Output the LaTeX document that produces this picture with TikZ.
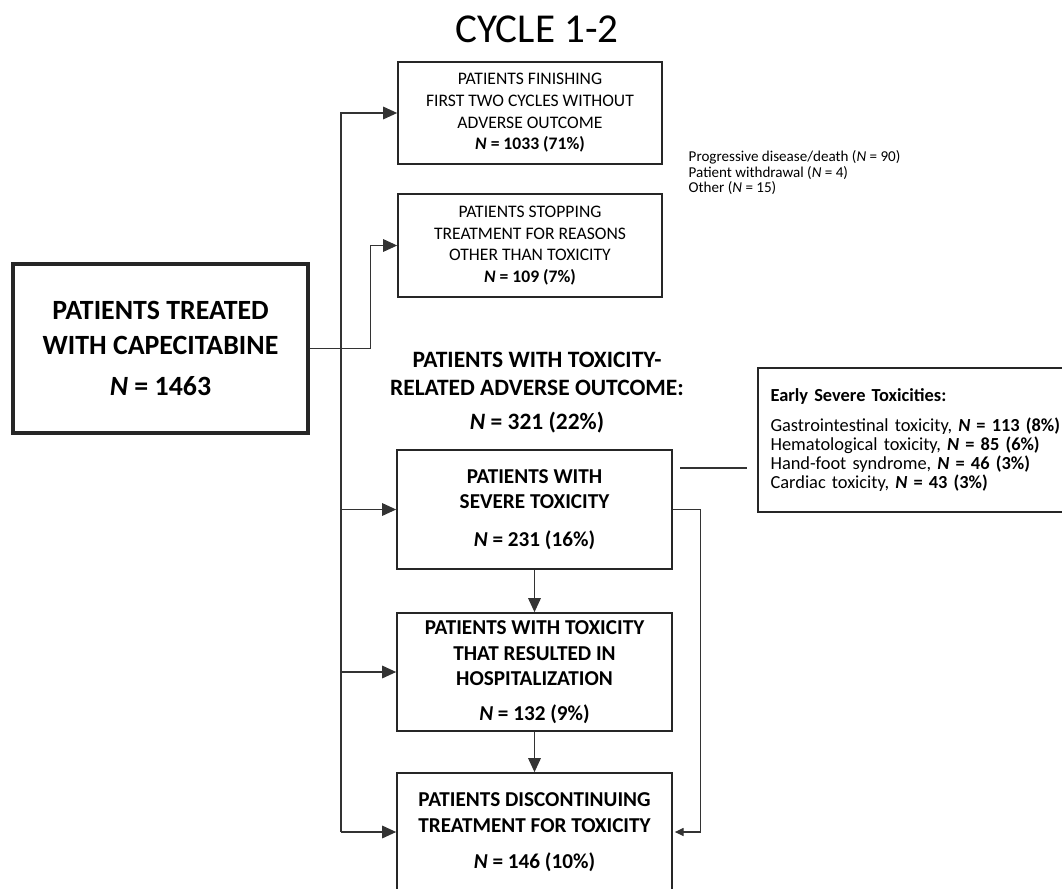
\documentclass[tikz,border=0pt]{standalone}
\usepackage{fontspec}
\setmainfont{Carlito}
\usetikzlibrary{positioning, calc, arrows.meta}

\newcommand{\bn}[1]{\textbf{\textit{N} = #1}}

\begin{document}
\begin{tikzpicture}[x=0.75pt, y=-0.75pt,
    box/.style={draw=black!85, line width=1.3pt, align=center, inner sep=0pt},
    regtext/.style={font=\fontsize{13.2}{16.3}\selectfont},
    boldtext/.style={font=\fontsize{15.9}{19}\selectfont\bfseries},
    link/.style={draw=black!80, line width=0.8pt},
    arr/.style={link, -{Triangle[length=10.5pt, width=9.5pt]}},
    smallarr/.style={link, -{Triangle[length=6.5pt, width=6pt]}}]
    \useasboundingbox (0,0) rectangle (1062,888);

    % title
    \node (title) at (537,29) {\fontsize{30.8}{36}\selectfont CYCLE 1-2};

    % start box
    \node[box, line width=2.3pt, minimum width=221.25pt, minimum height=126.75pt,
          font=\fontsize{20.9}{26.25}\selectfont\bfseries]
        (main) at (160.5,348.5) {PATIENTS TREATED\\WITH CAPECITABINE\\[4pt]\bn{1463}};

    % upper column
    \node[box, regtext, minimum width=198pt, minimum height=76.5pt]
        (finish) at (530,113) {PATIENTS FINISHING\\FIRST TWO CYCLES WITHOUT\\ADVERSE OUTCOME\\\bn{1033 (71\%)}};
    \node[box, regtext, minimum width=198pt, minimum height=77.25pt]
        (stop) at (530,245.5) {PATIENTS STOPPING\\TREATMENT FOR REASONS\\OTHER THAN TOXICITY\\\bn{109 (7\%)}};
    \node[anchor=west, align=left, font=\fontsize{11.3}{11.6}\selectfont]
        (reasons) at (684,173) {Progressive disease/death (\textit{N} = 90)\\Patient withdrawal (\textit{N} = 4)\\Other (\textit{N} = 15)};

    % toxicity group
    \node[align=center, font=\fontsize{17.6}{21}\selectfont\bfseries]
        (toxhead) at (537,393) {PATIENTS WITH TOXICITY-\\RELATED ADVERSE OUTCOME:\\[4.5pt]\bn{321 (22\%)}};
    \node[box, boldtext, minimum width=206.25pt, minimum height=89.25pt]
        (severe) at (534.5,509.5) {PATIENTS WITH\\SEVERE TOXICITY\\[9pt]\bn{231 (16\%)}};
    \node[box, boldtext, minimum width=206.25pt, minimum height=88.5pt]
        (hosp) at (534.5,672) {PATIENTS WITH TOXICITY\\THAT RESULTED IN\\HOSPITALIZATION\\[7pt]\bn{132 (9\%)}};
    \node[box, boldtext, minimum width=206.25pt, minimum height=88.5pt]
        (disc) at (534.5,832) {PATIENTS DISCONTINUING\\TREATMENT FOR TOXICITY\\[8pt]\bn{146 (10\%)}};

    % early toxicities
    \node[box, align=left, anchor=west, inner xsep=9.5pt, text width=260pt, minimum height=108pt,
          font=\fontsize{13.8}{14.25}\selectfont]
        (early) at (757,440) {\textbf{Early Severe Toxicities:}\\[8pt]
        Gastrointestinal toxicity, \bn{113 (8\%)}\\
        Hematological toxicity, \bn{85 (6\%)}\\
        Hand-foot syndrome, \bn{46 (3\%)}\\
        Cardiac toxicity, \bn{43 (3\%)}};

    % connectors
    \coordinate (spine) at (341,832);
    \coordinate (lnA) at (680,468);
    \coordinate (lnB) at (747,468);
    \draw[arr] (spine) |- (finish.west);
    \draw[arr] (main.east) -- ++(61,0) |- (stop.west);
    \draw[arr] (spine |- severe.west) -- (severe.west);
    \draw[arr] (spine |- hosp.west) -- (hosp.west);
    \draw[arr] (spine) -- (disc.west);
    \draw[arr] (severe) -- (hosp);
    \draw[arr] (hosp) -- (disc);
    \draw[smallarr] (severe.east) -- ++(28,0) |- ($(disc.east)+(2,0)$);
    \draw[link] (lnA) -- (lnB);
\end{tikzpicture}
\end{document}
